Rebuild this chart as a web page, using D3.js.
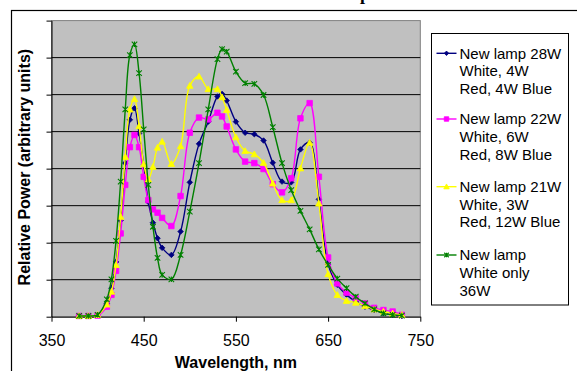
<!DOCTYPE html>
<html>
<head>
<meta charset="utf-8">
<script src="https://cdn.jsdelivr.net/npm/d3@7"></script>
<style>
  html, body { margin: 0; padding: 0; background: #fff; }
  svg { display: block; }
</style>
</head>
<body>
<svg id="chart" width="577" height="371"></svg>
<script>
// Wavelengths (nm) shared by all four spectra
const wavelengths = [380,390,400,410,415,420,425,430,435,440,445,450,455,460,465,470,480,490,500,510,520,530,535,540,550,560,570,580,590,600,610,620,630,640,650,660,670,680,690,700,710,720,730];

// Relative power, arbitrary units
const lamp28W = [0.02,0.02,0.05,0.36,0.77,1.48,2.6,4.15,5.32,5.63,4.95,4.1,3.1,2.54,2.12,1.86,1.67,2.3,3.63,4.67,5.27,5.95,6.02,5.84,5.27,4.97,4.93,4.76,4.16,3.65,3.63,4.52,4.7,3.17,1.42,0.86,0.59,0.41,0.27,0.18,0.09,0.05,0.02];
const lamp22W = [0.02,0.02,0.03,0.27,0.59,1.24,2.25,3.56,4.58,4.91,4.58,3.78,3.15,2.9,2.81,2.67,2.45,3.26,4.97,5.38,5.33,5.51,5.41,5.14,4.52,4.19,4.15,3.99,3.58,3.36,3.74,5.36,5.77,3.78,1.6,0.9,0.65,0.5,0.36,0.24,0.18,0.14,0.05];
const lamp21W = [0.02,0.02,0.05,0.33,0.68,1.4,2.7,4.32,5.6,5.88,5.15,4.12,3.71,4.05,4.57,4.73,4.13,4.61,6.24,6.49,6.15,6.15,5.93,5.59,4.85,4.48,4.39,4.16,3.6,3.15,3.15,4.01,4.7,3.06,1.15,0.59,0.43,0.38,0.29,0.2,0.14,0.09,0.05];
const lampWhite36W = [0.02,0.02,0.05,0.47,1.01,2.05,3.65,5.6,7.07,7.36,6.58,5.06,3.56,2.43,1.59,1.13,1.01,1.67,2.84,4.15,5.6,6.96,7.23,7.16,6.62,6.31,6.29,5.99,5.12,4.15,3.42,2.86,2.36,1.82,1.4,1.03,0.77,0.54,0.36,0.2,0.09,0.05,0.03];

const seriesNames = [
  ["New lamp 28W", "White, 4W", "Red, 4W Blue"],
  ["New lamp 22W", "White, 6W", "Red, 8W Blue"],
  ["New lamp 21W", "White, 3W", "Red, 12W Blue"],
  ["New lamp", "White only", "36W"]
];
const seriesValues = [lamp28W, lamp22W, lamp21W, lampWhite36W];
const seriesColors = ["#000080", "#FF00FF", "#FFFF00", "#008000"];
const seriesMarkers = ["diamond", "square", "triangle", "star"];

const xTicks = [350, 450, 550, 650, 750];
const yTicks = [0, 1, 2, 3, 4, 5, 6, 7, 8];

const svg = d3.select("#chart");
const font = "Arial, 'Liberation Sans', sans-serif";

// Outer chart frame (runs past the window edges)
svg.append("rect")
  .attr("x", 11.5).attr("y", 10.5)
  .attr("width", 700).attr("height", 500)
  .attr("fill", "#fff").attr("stroke", "#000").attr("stroke-width", 1.2);

// Title, sitting mostly above the top edge
svg.append("text")
  .attr("x", 350).attr("y", 0)
  .attr("font-family", "'Liberation Serif', 'Times New Roman', serif")
  .attr("font-weight", "bold").attr("font-size", 18)
  .text("Spectra");

const plot = { left: 51.5, right: 420.3, top: 20.6, bottom: 316.7 };

const x = d3.scaleLinear().domain([350, 750]).range([plot.left, plot.right]);
const y = d3.scaleLinear().domain([0, 8]).range([plot.bottom, plot.top]);

// Plot area
svg.append("rect")
  .attr("x", plot.left).attr("y", plot.top)
  .attr("width", plot.right - plot.left).attr("height", plot.bottom - plot.top)
  .attr("fill", "#C0C0C0").attr("stroke", "#808080").attr("stroke-width", 1);

// Horizontal gridlines
svg.append("g")
  .selectAll("line")
  .data(yTicks.slice(1, -1))
  .join("line")
  .attr("x1", plot.left).attr("x2", plot.right)
  .attr("y1", d => y(d)).attr("y2", d => y(d))
  .attr("stroke", "#000").attr("stroke-width", 1);

// X axis
const xAxis = svg.append("g")
  .attr("transform", `translate(0,${plot.bottom})`)
  .call(d3.axisBottom(x).tickValues(xTicks).tickSize(5).tickSizeOuter(0).tickPadding(13));
xAxis.select(".domain").attr("stroke", "#000");
xAxis.selectAll(".tick line").attr("stroke", "#000");
xAxis.selectAll(".tick text")
  .attr("font-family", font).attr("font-size", 16).attr("fill", "#000");

// Y axis (ticks only, no labels)
const yAxis = svg.append("g")
  .attr("transform", `translate(${plot.left},0)`)
  .call(d3.axisLeft(y).tickValues(yTicks).tickSize(5).tickSizeOuter(0).tickFormat(""));
yAxis.select(".domain").attr("stroke", "#000");
yAxis.selectAll(".tick line").attr("stroke", "#000");

// Axis titles
svg.append("text")
  .attr("x", x(550)).attr("y", 368)
  .attr("text-anchor", "middle")
  .attr("font-family", font).attr("font-weight", "bold").attr("font-size", 16)
  .text("Wavelength, nm");

svg.append("text")
  .attr("transform", `translate(29.5,${(plot.top + plot.bottom) / 2 - 1.5}) rotate(-90)`)
  .attr("text-anchor", "middle")
  .attr("font-family", font).attr("font-weight", "bold").attr("font-size", 16)
  .text("Relative Power (arbitrary units)");

// Marker shapes
function markerPath(type, s) {
  const h = s / 2;
  switch (type) {
    case "diamond": return `M0,${-h}L${h},0L0,${h}L${-h},0Z`;
    case "square": return `M${-h},${-h}H${h}V${h}H${-h}Z`;
    case "triangle": return `M0,${-h}L${h},${h * 0.8}L${-h},${h * 0.8}Z`;
    case "star": return `M${-h},${-h}L${h},${h}M${-h},${h}L${h},${-h}M0,${-h}V${h}`;
  }
}

const line = d3.line()
  .x(d => x(d[0]))
  .y(d => y(d[1]))
  .curve(d3.curveCatmullRom.alpha(0.5));

seriesValues.forEach((vals, i) => {
  const pts = wavelengths.map((w, j) => [w, vals[j]]);
  const g = svg.append("g");
  g.append("path")
    .attr("d", line(pts))
    .attr("fill", "none")
    .attr("stroke", seriesColors[i])
    .attr("stroke-width", 1.4);
  const filled = seriesMarkers[i] !== "star";
  g.selectAll("path.mk")
    .data(pts)
    .join("path")
    .attr("class", "mk")
    .attr("transform", d => `translate(${x(d[0])},${y(d[1])})`)
    .attr("d", markerPath(seriesMarkers[i], seriesMarkers[i] === "triangle" ? 6.5 : 5.5))
    .attr("fill", filled ? seriesColors[i] : "none")
    .attr("stroke", seriesColors[i])
    .attr("stroke-width", filled ? 0.8 : 1.1);
});

// Legend
const legend = svg.append("g");
legend.append("rect")
  .attr("x", 431.5).attr("y", 33.5)
  .attr("width", 137).attr("height", 271.5)
  .attr("fill", "#fff").attr("stroke", "#000").attr("stroke-width", 1);

const legendTops = [53.3, 119, 186.7, 255];
seriesNames.forEach((lines, i) => {
  const cy = legendTops[i];
  legend.append("line")
    .attr("x1", 436.5).attr("x2", 456.5)
    .attr("y1", cy).attr("y2", cy)
    .attr("stroke", seriesColors[i]).attr("stroke-width", 1.4);
  const filled = seriesMarkers[i] !== "star";
  legend.append("path")
    .attr("transform", `translate(446.5,${cy})`)
    .attr("d", markerPath(seriesMarkers[i], seriesMarkers[i] === "triangle" ? 5.5 : 4.5))
    .attr("fill", filled ? seriesColors[i] : "none")
    .attr("stroke", seriesColors[i])
    .attr("stroke-width", filled ? 0.8 : 1.1);
  const t = legend.append("text")
    .attr("font-family", font).attr("font-size", 15).attr("fill", "#000");
  lines.forEach((s, k) => {
    t.append("tspan")
      .attr("x", 459.5)
      .attr("y", cy + 5.3 + k * 17.6)
      .text(s);
  });
});
</script>
</body>
</html>
